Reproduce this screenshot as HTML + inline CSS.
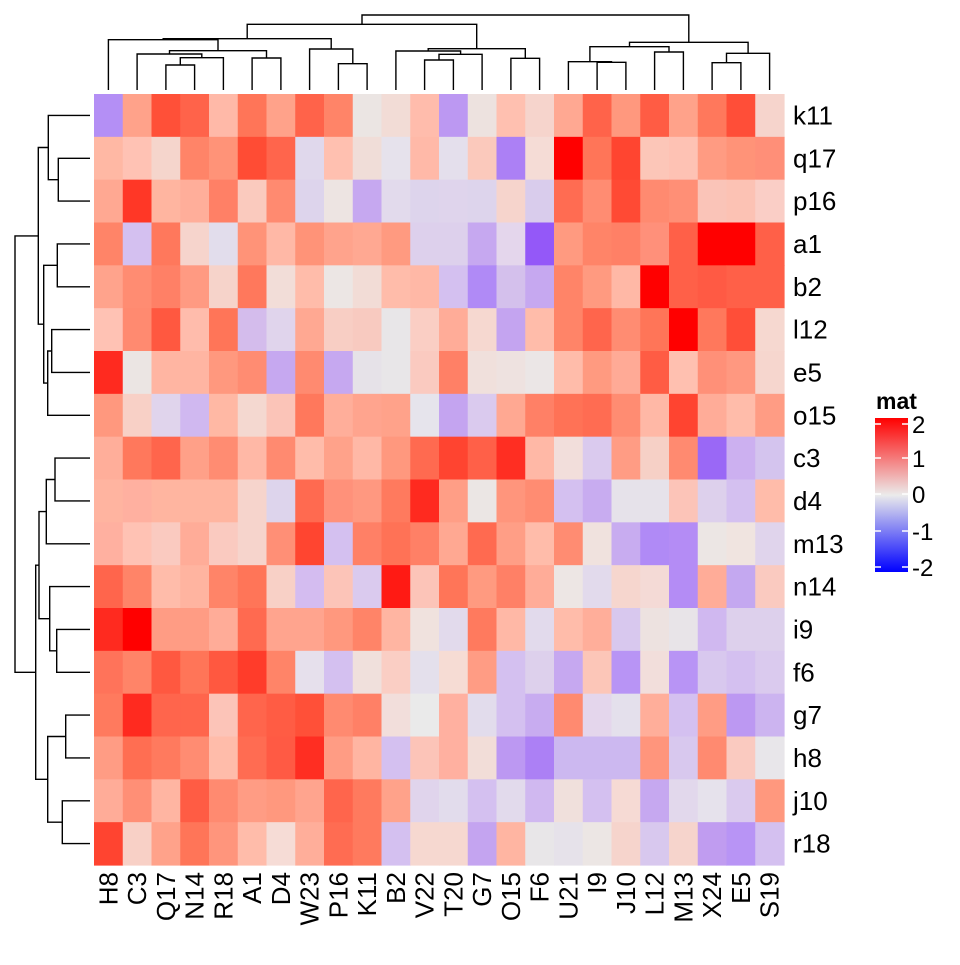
<!DOCTYPE html>
<html><head><meta charset="utf-8"><style>
html,body{margin:0;padding:0;background:#fff;}
svg text{font-family:"Liberation Sans",Arial,sans-serif;}
</style></head><body>
<svg id="s" width="960" height="960" xmlns="http://www.w3.org/2000/svg">
<defs><linearGradient id="g" x1="0" y1="1" x2="0" y2="0">
<stop offset="0" stop-color="#0000ff"/><stop offset="0.5" stop-color="#ebebeb"/><stop offset="1" stop-color="#ff0000"/>
</linearGradient></defs>
<g id="hm"></g><g id="dd" fill="none" stroke="#000" stroke-width="1.4"></g><g id="lb"></g>
<text x="876" y="409" font-size="23" font-weight="bold">mat</text>
<rect x="875" y="418" width="33" height="154" fill="url(#g)"/>
<g stroke="#fff" stroke-width="1.5">
<line x1="875" y1="424" x2="881" y2="424"/><line x1="902" y1="424" x2="908" y2="424"/>
<line x1="875" y1="458" x2="881" y2="458"/><line x1="902" y1="458" x2="908" y2="458"/>
<line x1="875" y1="494" x2="881" y2="494"/><line x1="902" y1="494" x2="908" y2="494"/>
<line x1="875" y1="531" x2="881" y2="531"/><line x1="902" y1="531" x2="908" y2="531"/>
<line x1="875" y1="567" x2="881" y2="567"/><line x1="902" y1="567" x2="908" y2="567"/>
</g>
<g font-size="24">
<text x="912" y="433">2</text><text x="912" y="467">1</text><text x="912" y="503">0</text>
<text x="912" y="540">-1</text><text x="912" y="576">-2</text>
</g>
</svg>
<script>
(function(){
var NS="http://www.w3.org/2000/svg";
function el(tag,attrs,txt){var e=document.createElementNS(NS,tag);for(var k in attrs)e.setAttribute(k,attrs[k]);if(txt!==undefined)e.textContent=txt;return e;}
var C=[
"b48ff5 ffa28a ff5038 ff634a ffb9a8 ff7558 ffa28a ff634a ff8468 ebe5e3 f2dcd6 ffbcac bc98f2 ede2df ffc0b0 f6d4cc ffa892 ff634a ff987e ff5c44 ffa28a ff785c ff4e38 f6d4cc",
"ffb8a4 ffc2b4 f5d5cc ff8468 ff9378 ff4c34 ff654c e0d8ec ffc0b0 f0ddd8 e6e2ec ffb9a8 e4dfec fbc9bc ac80f5 f5dcd6 ff0000 ff7558 ff4530 fcc6b8 fec2b4 ff9b82 ff9378 ff8f78",
"ffa892 ff3726 ffb5a0 ffae9a ff8066 facabe ff8a70 ddd4ec ede4e2 c6a8f0 e2daec ddd4ec dfd4ec ddd4ec f6d4cc d9ccec ff6c52 ff8c72 ff4a34 ff8a70 ff8f76 fac4b8 fcc2b4 facec6",
"ff8468 d4c0f0 ff785c f6d4cc e2ddec ff9378 ffb8a6 ff9378 ffa38c ffa892 ff9a80 ddd0ec ddd0ec c6a8f0 e4d6ec 9458f8 ff9a80 ff8468 ff8066 ff907a ff6048 ff0000 ff0000 ff6048",
"ffa38c ff8c72 ff8066 ff9a82 f6d3ca ff785c f2ddd8 ffbcaa ece6e4 f2dcd6 ffbcaa ffb8a6 d4c0f0 b08af6 d4c0ec c6a8f0 ff8468 ff9a80 ffb8a6 ff0000 ff6048 ff5a44 ff6048 ff6048",
"ffc2b4 ff8a70 ff5840 ffbcac ff7558 d4bcec e0d4ec ffa892 f8cec4 f8cac0 e8e6e8 facec4 ffac98 f6d8d0 c4a4f0 ffbcaa ff8468 ff654c ff8c72 ff7558 ff0000 ff785c ff4e38 f6d8d0",
"ff2a1f ebe5e3 ffb5a2 ffb5a2 ff987e ff8c72 c6a8f0 ff8a70 c6a8f0 e6e2e8 e8e6e8 facac0 ff8066 f0e0dc eee2e0 ebe6e6 ffbcaa ff9a80 ffaa96 ff5c44 ffc0b0 ff9078 ff9880 f6d6ce",
"ff987e f8d0c6 e0d4ec d0b8f0 ffb8a4 f4d8d0 fbc4b8 ff785c ffae9a ffa48e ffa28a e6e4ec c4a4f0 dacaee ffa892 ff8066 ff7256 ff6c52 ff8c72 ffb8a6 ff4430 ffac98 ffbcaa ff9c84",
"ffae9a ff785c ff654c ffa088 ff8c72 ffb8a6 ff8a70 ffbcaa ffa28a ffb8a6 ff987e ff6a50 ff4430 ff6048 ff2e22 ffb8a6 f2dedb dacaee ff9c84 f6d0c6 ff8a70 9a68f6 ccb0f0 d4c4ee",
"ffb4a0 ffb0a0 ffb5a0 ffb5a0 ffb5a0 f6d4cc ddd4ec ff6a50 ff917a ff9880 ff7a5e ff2a1f ff9e86 ebe6e4 ff957c ff8c72 d4c0f0 c8acf0 e6e2ea e6e2ea fcc4b8 ddd0ec d4c0f0 ffbcaa",
"ffb0a0 ffc2b4 facac0 ffac98 facac0 f6d4cc ff8f76 ff4530 d4c0f0 ff8066 ff7256 ff8066 ffa892 ff6a50 ff9e86 ffbcaa ff8c72 f0e2de c8acf0 b08af6 b48cf5 ece6e4 f0e4e0 e0d4ec",
"ff654c ff8468 ffbcaa ffb4a0 ff8468 ff7558 f8d0c6 d4bcf0 fcc4b8 dacaee ff1a14 fcc4b8 ff7558 ff9a80 ff8066 ffac98 ede6e4 e2daec f6d6ce f4dad6 b48cf5 ffac98 c4a8f0 facac0",
"ff2a1f ff0000 ff9c84 ff9c84 ffac98 ff6a50 ffa48e ffa48e ff987e ff8468 ffb5a2 f0e2de e2daec ff7a5e ffb8a6 e2daec ffbcaa ffae9a d8c8ee ede2e0 e8e4e8 d0b8f0 ddd0ec ddd0ec",
"ff735a ff8468 ff5840 ff7558 ff5840 ff3c2a ff8468 e6e0ec d4c0f0 f0e0dc facec4 e4e0ec f6dcd4 ff9c84 d4c0f0 ddd0ec c6a8f0 fcc6b8 b894f5 f2dedb b894f5 d8c8ee d4c0f0 dacaee",
"ff7a5e ff2a1f ff654c ff654c fcc4b8 ff654c ff5c44 ff5038 ff8a70 ff8066 f2dedb eaeaea ffb0a0 e2dcec d4c0f0 c8acf0 ff8a70 e4d6ec e4e0ec ffae9a d4c0f0 ff9c84 bc98f2 ccb4f0",
"ff9c84 ff6e52 ff7a5e ff8c72 ffbcaa ff6c52 ff5a44 ff2e22 ff9c84 ffb5a2 d4c0f0 fcc4b8 ffb0a0 f2ddd8 bc98f2 ac80f5 ccb8f0 ccb8f0 ccb8f0 ff957c d8c8ee ff8a70 facac0 e8e6ea",
"ffac98 ff8f76 ffb5a2 ff5c44 ff8a70 ff9c84 ff987e ffa48e ff654c ff7a5e ffa28a e0d4ec e2dcec d4c0f0 e2daec d0b8f0 f0e0dc d4c0f0 f6dad4 c6a8f0 e2d8ec e6e2ec dacaee ff987e",
"ff4430 f8d0c6 ffa28a ff7558 ff957c ffbcaa f6dcd6 ffae9a ff6c52 ff7a5e d4c0f0 f6d8d0 f6d8d0 c4a4f0 ffb5a2 e8e6e8 e6e2ea ece6e4 f6d4cc d8c8ee f6d4cc c09cf0 b894f5 d4c0f0"];
var R=["k11","q17","p16","a1","b2","l12","e5","o15","c3","d4","m13","n14","i9","f6","g7","h8","j10","r18"];
var K=["H8","C3","Q17","N14","R18","A1","D4","W23","P16","K11","B2","V22","T20","G7","O15","F6","U21","I9","J10","L12","M13","X24","E5","S19"];
var X0=94,Y0=94,CW=690/24,RH=771/18;
var hm=document.getElementById("hm"),lb=document.getElementById("lb");
for(var i=0;i<18;i++){var a=C[i].split(" ");for(var j=0;j<24;j++){
hm.appendChild(el("rect",{x:(X0+j*CW).toFixed(2),y:(Y0+i*RH).toFixed(2),width:(CW+0.6).toFixed(2),height:(RH+0.6).toFixed(2),fill:"#"+a[j]}));}
lb.appendChild(el("text",{x:793,y:(Y0+(i+0.5)*RH+9).toFixed(1),"font-size":26},R[i]));}
for(var j=0;j<24;j++){var cx=X0+(j+0.5)*CW+9;
lb.appendChild(el("text",{transform:"translate("+cx.toFixed(1)+",872) rotate(-90)","font-size":26,"text-anchor":"end"},K[j]));}
function n(hh,a,b){return {h:hh,a:a,b:b};}
var d="";
function dTop(t){if(typeof t=="number")return {p:X0+(t+0.5)*CW,h:90};var A=dTop(t.a),B=dTop(t.b);
d+='M'+A.p.toFixed(1)+' '+A.h+'V'+t.h+'H'+B.p.toFixed(1)+'V'+B.h;return {p:(A.p+B.p)/2,h:t.h};}
function dLeft(t){if(typeof t=="number")return {p:Y0+(t+0.5)*RH,h:90};var A=dLeft(t.a),B=dLeft(t.b);
d+='M'+A.h+' '+A.p.toFixed(1)+'H'+t.h+'V'+B.p.toFixed(1)+'H'+B.h;return {p:(A.p+B.p)/2,h:t.h};}
dTop(n(15,n(24.3,n(38.7,n(39.7,0,n(50.7,n(54,1,n(57.7,n(65,2,3),4)),n(58,5,6))),n(49,7,n(63.7,8,9))),n(48.7,n(51,10,n(54.3,n(60,11,12),13)),n(58.3,14,15))),n(42.3,n(46.7,n(61.7,16,n(62.3,17,18)),n(52,19,20)),n(53.3,n(62.7,21,22),23))));
dLeft(n(15,n(38.3,n(48.3,0,n(58.3,1,2)),n(43.7,n(57.3,3,4),n(47.7,n(51.7,5,6),7))),n(35.7,n(39,n(46.3,n(55,8,9),10),n(49.7,11,n(56.7,12,13))),n(47.7,n(65.7,14,15),n(62.3,16,17)))));
document.getElementById("dd").appendChild(el("path",{d:d}));
})();
</script>
</body></html>
